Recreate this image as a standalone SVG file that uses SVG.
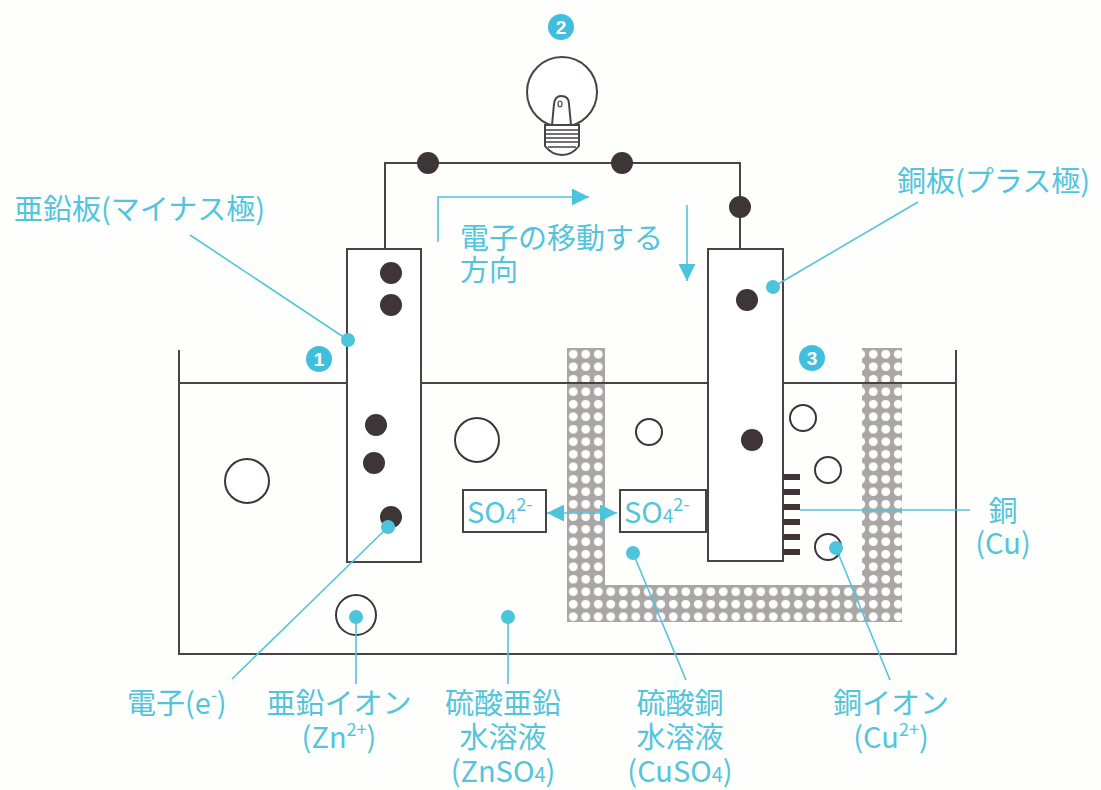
<svg xmlns="http://www.w3.org/2000/svg" width="1101" height="790" viewBox="0 0 1101 790">
  <style>
    .ink { fill: none; stroke: #4a4245; stroke-width: 2; }
    .plate { fill: #ffffff; stroke: #4a4245; stroke-width: 2; }
    .e { fill: #3e3538; }
    .ion { fill: #ffffff; stroke: #3e3538; stroke-width: 2; }
    .lead { fill: none; stroke: #52c5dc; stroke-width: 1.6; }
    .pt { fill: #4cc4dc; }
    .lbl { fill: #52c5dc; font-family: "Noto Sans CJK JP", "Noto Sans", sans-serif; font-size: 29px; }
    .mid { text-anchor: middle; }
    .badge { fill: #3fbfdc; }
    .num { fill: #ffffff; font-family: "Liberation Sans", sans-serif; font-weight: bold; font-size: 19px; text-anchor: middle; }
  </style>
  <defs>
    <pattern id="porous" patternUnits="userSpaceOnUse" x="567" y="348" width="12.5" height="12.5">
      <rect width="12.5" height="12.5" fill="#aaa6a6"/>
      <circle cx="6.25" cy="6.25" r="4.4" fill="#ffffff"/>
    </pattern>
    <marker id="ah" viewBox="0 0 10 10" refX="10" refY="5" markerWidth="17" markerHeight="17" markerUnits="userSpaceOnUse" orient="auto-start-reverse">
      <path d="M0,0 L10,5 L0,10 Z" fill="#4cc4dc"/>
    </marker>
  </defs>

  <rect width="1101" height="790" fill="#fefefc"/>

  <!-- tank walls -->
  <g id="tank">
    <path class="ink" d="M179,350 V654 H956 V350" stroke-width="2.6"/>
  </g>

  <!-- porous cup holding the copper sulfate solution -->
  <g id="porous-cup">
    <path d="M567,348 H605 V585 H862 V348 H902 V622 H567 Z" fill="url(#porous)"/>
  </g>

  <!-- liquid surface -->
  <line class="ink" x1="179" y1="383" x2="956" y2="383" stroke-width="1.6"/>

  <!-- external wire -->
  <g id="wire">
    <path class="ink" d="M385,249 V163 H740 V249"/>
    <circle class="e" cx="428" cy="163" r="11"/>
    <circle class="e" cx="622" cy="163" r="11"/>
    <circle class="e" cx="740" cy="207" r="11"/>
  </g>

  <!-- light bulb -->
  <g id="bulb">
    <circle cx="562" cy="92" r="35" fill="#ffffff" stroke="#4a4245" stroke-width="2"/>
    <path d="M552,125 L554,104 Q555,96 561,96 Q569,96 569,104 L571,125" fill="#ffffff" stroke="#4a4245" stroke-width="2"/>
    <ellipse cx="560" cy="104" rx="2" ry="3" fill="none" stroke="#4a4245" stroke-width="1.2"/>
    <path d="M545,125 H579 V146 Q572,155 562,155 Q552,155 545,146 Z" fill="#ffffff" stroke="#4a4245" stroke-width="2"/>
    <path d="M546,130 H578 M546,134 H578 M546,138 H578 M546,142 H578 M548,147 H576" stroke="#4a4245" stroke-width="1.3"/>
    <circle class="badge" cx="561" cy="27" r="13"/>
    <text class="num" x="561" y="34">2</text>
  </g>

  <!-- zinc plate (negative electrode) -->
  <g id="zinc-plate">
    <rect class="plate" x="347" y="249" width="74" height="313"/>
    <circle class="e" cx="391" cy="273" r="11"/>
    <circle class="e" cx="391" cy="305" r="11"/>
    <circle class="e" cx="376" cy="425" r="11"/>
    <circle class="e" cx="374" cy="463" r="11"/>
    <circle class="e" cx="391" cy="517" r="11"/>
    <circle class="badge" cx="319" cy="359" r="13"/>
    <text class="num" x="319" y="366">1</text>
  </g>

  <!-- copper plate (positive electrode) -->
  <g id="copper-plate">
    <rect class="plate" x="708" y="249" width="75" height="312"/>
    <circle class="e" cx="747" cy="300" r="11"/>
    <circle class="e" cx="752" cy="440" r="11"/>
    <g fill="#3e3538">
      <rect x="783" y="474" width="17" height="6"/>
      <rect x="783" y="489" width="17" height="6"/>
      <rect x="783" y="504" width="17" height="6"/>
      <rect x="783" y="519" width="17" height="6"/>
      <rect x="783" y="534" width="17" height="6"/>
      <rect x="783" y="549" width="17" height="6"/>
    </g>
    <circle class="badge" cx="812" cy="358" r="13"/>
    <text class="num" x="812" y="365">3</text>
  </g>

  <!-- ions in solution -->
  <g id="ions">
    <circle class="ion" cx="247" cy="481" r="22"/>
    <circle class="ion" cx="477" cy="440" r="22"/>
    <circle class="ion" cx="356" cy="615" r="20"/>
    <circle class="ion" cx="649" cy="432" r="13"/>
    <circle class="ion" cx="803" cy="418" r="13"/>
    <circle class="ion" cx="828" cy="470" r="13"/>
    <circle class="ion" cx="828" cy="547" r="13"/>
  </g>

  <!-- sulfate ions -->
  <g id="so4-left">
    <rect x="463" y="490" width="83" height="42" fill="#ffffff" stroke="#4a4245" stroke-width="2"/>
    <text class="lbl" x="467" y="523" font-size="28">SO<tspan font-size="19">4</tspan><tspan font-size="18" dy="-12">2-</tspan></text>
  </g>
  <g id="so4-right">
    <rect x="620" y="490" width="86" height="42" fill="#ffffff" stroke="#4a4245" stroke-width="2"/>
    <text class="lbl" x="624" y="523" font-size="28">SO<tspan font-size="19">4</tspan><tspan font-size="18" dy="-12">2-</tspan></text>
  </g>

  <!-- connectors: arrows and leader lines -->
  <g id="connectors">
    <path class="lead" d="M438,242 V197 H589" marker-end="url(#ah)" stroke-width="2"/>
    <path class="lead" d="M687,205 V281" marker-end="url(#ah)" stroke-width="2"/>
    <path class="lead" d="M547,513 H617" marker-start="url(#ah)" marker-end="url(#ah)" stroke-width="2"/>

    <line class="lead" x1="190" y1="235" x2="348" y2="340"/>
    <circle class="pt" cx="348" cy="340" r="7"/>
    <line class="lead" x1="918" y1="202" x2="773" y2="287"/>
    <circle class="pt" cx="773" cy="287" r="7"/>
    <line class="lead" x1="388" y1="527" x2="232" y2="679"/>
    <circle class="pt" cx="388" cy="527" r="7"/>
    <line class="lead" x1="356" y1="617" x2="356" y2="684"/>
    <circle class="pt" cx="356" cy="617" r="7"/>
    <line class="lead" x1="508" y1="617" x2="508" y2="684"/>
    <circle class="pt" cx="508" cy="617" r="7"/>
    <line class="lead" x1="633" y1="553" x2="686" y2="680"/>
    <circle class="pt" cx="633" cy="553" r="7"/>
    <line class="lead" x1="836" y1="548" x2="890" y2="680"/>
    <circle class="pt" cx="836" cy="548" r="7"/>
    <line class="lead" x1="800" y1="510" x2="970" y2="510"/>
  </g>

  <!-- labels -->
  <g id="labels">
    <text class="lbl" x="14" y="220" font-size="30">亜鉛板(マイナス極)</text>
    <text class="lbl" x="897" y="192" font-size="30">銅板(プラス極)</text>
    <text class="lbl" x="460" y="249" font-size="30">電子の移動する</text>
    <text class="lbl" x="460" y="281" font-size="30">方向</text>
    <text class="lbl mid" x="1003" y="522">銅</text>
    <text class="lbl mid" x="1003" y="554">(Cu)</text>
    <text class="lbl" x="127" y="714">電子(e<tspan font-size="17" dy="-13">-</tspan><tspan dy="13">)</tspan></text>
    <text class="lbl mid" x="339" y="714">亜鉛イオン</text>
    <text class="lbl mid" x="339" y="748">(Zn<tspan font-size="18" dy="-12">2+</tspan><tspan dy="12">)</tspan></text>
    <text class="lbl mid" x="503" y="714">硫酸亜鉛</text>
    <text class="lbl mid" x="503" y="748">水溶液</text>
    <text class="lbl mid" x="503" y="782">(ZnSO<tspan font-size="20">4</tspan>)</text>
    <text class="lbl mid" x="680" y="714">硫酸銅</text>
    <text class="lbl mid" x="680" y="748">水溶液</text>
    <text class="lbl mid" x="680" y="782">(CuSO<tspan font-size="20">4</tspan>)</text>
    <text class="lbl mid" x="891" y="714">銅イオン</text>
    <text class="lbl mid" x="891" y="748">(Cu<tspan font-size="18" dy="-12">2+</tspan><tspan dy="12">)</tspan></text>
  </g>
</svg>
